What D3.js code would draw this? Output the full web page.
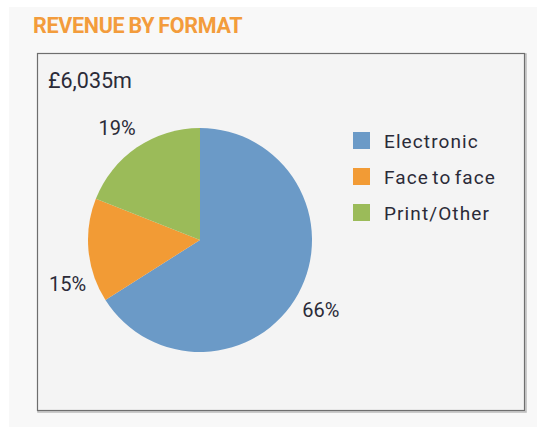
<!DOCTYPE html>
<html><head><meta charset="utf-8">
<script src="https://cdn.jsdelivr.net/npm/d3@7"></script>
<style>html,body{margin:0;padding:0;background:#fff;}</style>
</head><body>
<svg id="chart" width="537" height="427"></svg>
<script>
const categories = ["Electronic", "Face to face", "Print/Other"];
const values = [66, 15, 19];
const colors = ["#6b9ac7", "#f29b35", "#9bbb59"];
const title = "REVENUE BY FORMAT";
const total = "£6,035m";

const svg = d3.select("#chart");
const font = "Roboto, 'DejaVu Sans', sans-serif";

// layout: label angle nudges (degrees) to keep labels clear of each other
const labelNudge = {"Face to face": -12.9, "Print/Other": -2.3, "Electronic": 1.2};

svg.append("rect").attr("x", 9).attr("y", 7).attr("width", 528).attr("height", 420).attr("fill", "#f8f8f8");
svg.append("text").attr("x", 33).attr("y", 33).text(title)
  .attr("font-family", font).attr("font-weight", 700).attr("font-size", 21.5)
  .attr("fill", "#f39c3c").attr("letter-spacing", -0.3).attr("word-spacing", -1);
svg.append("rect").attr("x", 38).attr("y", 54).attr("width", 488).attr("height", 358).attr("fill", "none").attr("stroke", "#bbb").attr("stroke-width", 1.5);
svg.append("rect").attr("x", 37.5).attr("y", 53.5).attr("width", 487).attr("height", 357).attr("fill", "#f4f4f4").attr("stroke", "#6e6e6e").attr("stroke-width", 1.2);

svg.append("text").attr("x", 48).attr("y", 88).text(total)
  .attr("font-family", font).attr("font-size", 21.5).attr("fill", "#2b2b38");

const cx = 200, cy = 240, r = 112, lr = 139.5;
const pie = d3.pie().sort(null).value(d => d)(values);
const arc = d3.arc().innerRadius(0).outerRadius(r);
const g = svg.append("g").attr("transform", `translate(${cx},${cy})`);
g.selectAll("path").data(pie).enter().append("path")
  .attr("d", arc).attr("fill", (d, i) => colors[i]);
g.selectAll("text").data(pie).enter().append("text")
  .attr("transform", (d, i) => {
    const a = (d.startAngle + d.endAngle) / 2 + labelNudge[categories[i]] * Math.PI / 180;
    return `translate(${lr * Math.sin(a)},${-lr * Math.cos(a)})`;
  })
  .attr("text-anchor", "middle").attr("dy", "0.36em")
  .attr("font-family", font).attr("font-size", 20).attr("fill", "#2b2b38")
  .text(d => d.data + "%");

const legend = svg.append("g").attr("transform", "translate(353,132)");
const rows = legend.selectAll("g").data(categories).enter().append("g")
  .attr("transform", (d, i) => `translate(0,${i * 36})`);
rows.append("rect").attr("width", 17).attr("height", 17).attr("fill", (d, i) => colors[i]);
rows.append("text").attr("x", 31).attr("y", 16).text(d => d)
  .attr("font-family", font).attr("font-size", 19).attr("fill", "#2b2b38")
  .attr("letter-spacing", 1.1).attr("word-spacing", -2.5);
</script>
</body></html>
